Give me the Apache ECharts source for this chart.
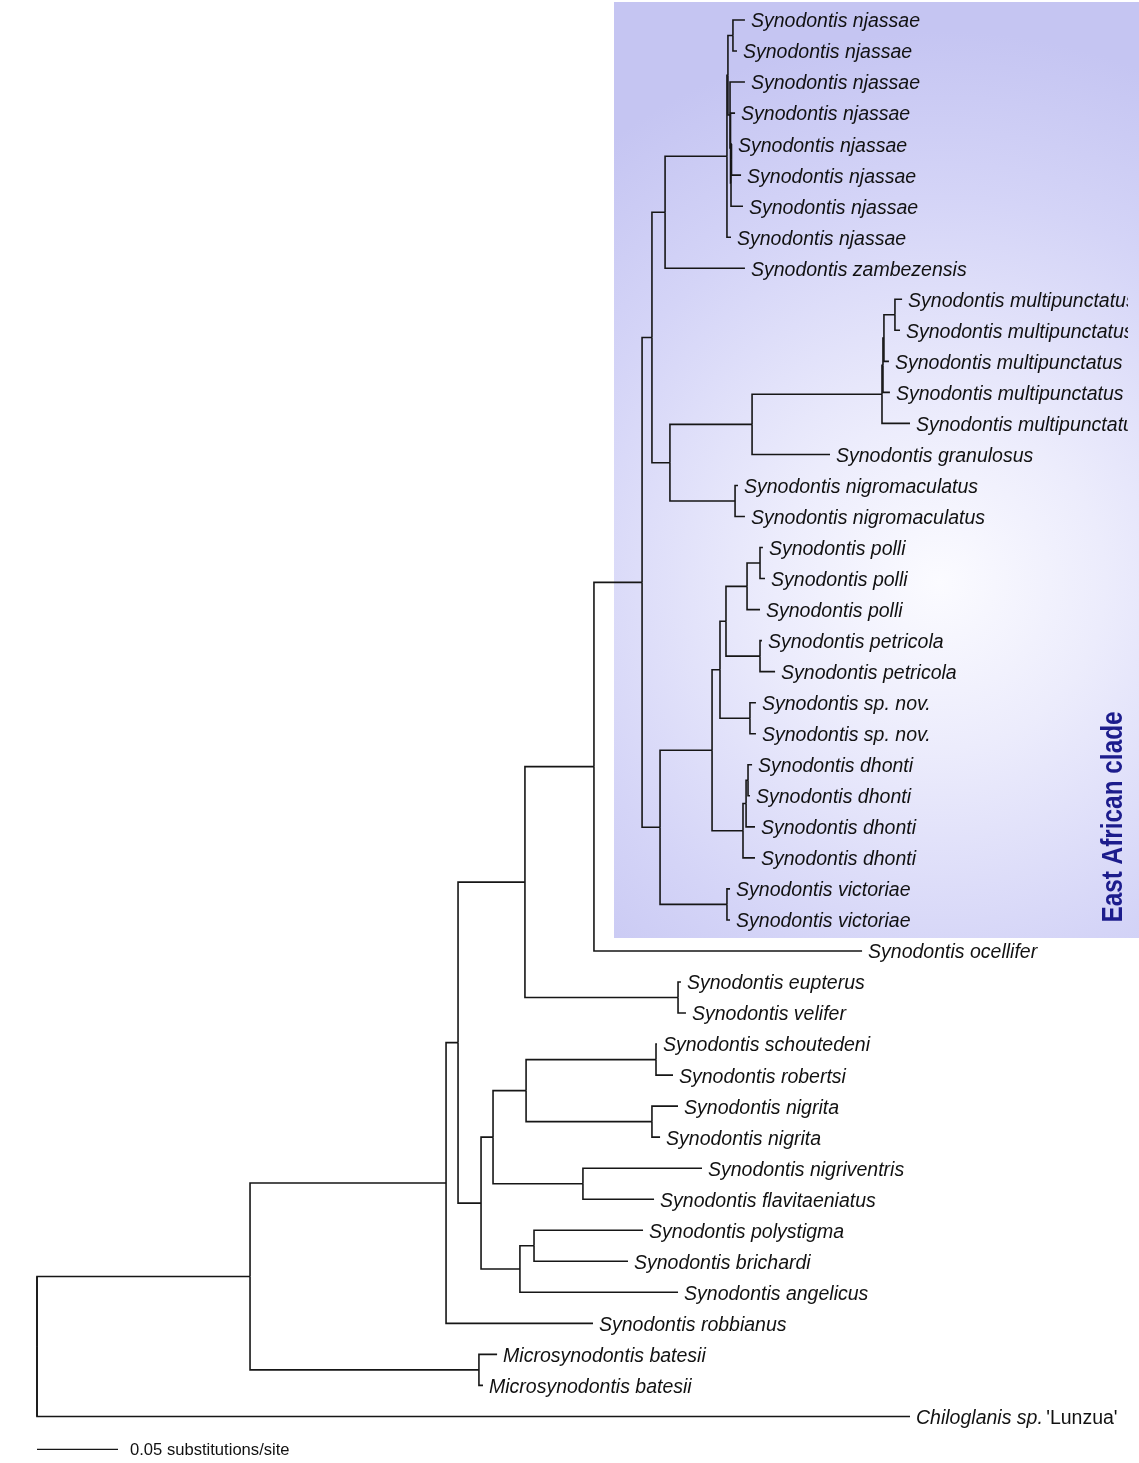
<!DOCTYPE html>
<html><head><meta charset="utf-8">
<script src="https://cdn.jsdelivr.net/npm/echarts@6/dist/echarts.min.js"></script>
<style>html,body{margin:0;padding:0;background:#fff}#chart{width:1139px;height:1463px}</style>
</head><body><div id="chart"></div>
<script>
// ---- Tree data (distances from root in substitutions/site) ----
const nodeIds = ['root','ig','micro','syn','a','b','k','l','m2','m','nj','nja','njs','njd','njg','njh','nji',
  'u','v','p','p2','q','r','nm','n','w','x','y','po','po2','pe','sn','dh','dh1','dh1a','vi','eu',
  'c','d','f','h','i','g','e','j'];
const nodeParents = [null,'root','ig','ig','syn','a','b','k','l','m2','m','nj','nja','nja','njd','njg','njh',
  'm2','u','v','p','p2','q','u','l','n','w','x','y','po','y','x','w','dh','dh1','n','b',
  'a','c','d','f','f','d','c','e'];
const nodeDepths = [0,0.1315,0.2728,0.2525,0.2599,0.3012,0.3438,0.3735,0.3796,0.3877,0.4259,0.4265,0.4296,0.4278,0.4281,0.4284,0.4287,
  0.3907,0.4414,0.5216,0.5222,0.5228,0.5296,0.4309,0.3846,0.4167,0.4216,0.4253,0.4383,0.4463,0.4463,0.4401,0.4358,0.4377,0.4389,0.4259,0.3957,
  0.2741,0.2815,0.3019,0.3821,0.3796,0.3370,0.2981,0.3068];

const leafNames = [
  'Synodontis njassae','Synodontis njassae','Synodontis njassae','Synodontis njassae',
  'Synodontis njassae','Synodontis njassae','Synodontis njassae','Synodontis njassae',
  'Synodontis zambezensis',
  'Synodontis multipunctatus','Synodontis multipunctatus','Synodontis multipunctatus',
  'Synodontis multipunctatus','Synodontis multipunctatus',
  'Synodontis granulosus','Synodontis nigromaculatus','Synodontis nigromaculatus',
  'Synodontis polli','Synodontis polli','Synodontis polli',
  'Synodontis petricola','Synodontis petricola',
  'Synodontis sp. nov.','Synodontis sp. nov.',
  'Synodontis dhonti','Synodontis dhonti','Synodontis dhonti','Synodontis dhonti',
  'Synodontis victoriae','Synodontis victoriae',
  'Synodontis ocellifer','Synodontis eupterus','Synodontis velifer',
  'Synodontis schoutedeni','Synodontis robertsi','Synodontis nigrita','Synodontis nigrita',
  'Synodontis nigriventris','Synodontis flavitaeniatus',
  'Synodontis polystigma','Synodontis brichardi','Synodontis angelicus',
  'Synodontis robbianus','Microsynodontis batesii','Microsynodontis batesii',
  "Chiloglanis sp. 'Lunzua'"
];
const leafParents = ['njs','njs','njd','njg','nji','nji','njh','nj','m',
  'r','r','q','p2','p','v','nm','nm','po2','po2','po','pe','pe','sn','sn',
  'dh1a','dh1a','dh1','dh','vi','vi','k','eu','eu','h','h','i','i','g','g',
  'j','j','e','syn','micro','micro','root'];
const leafDepths = [0.4370,0.4321,0.4370,0.4309,0.4290,0.4346,0.4358,0.4284,0.4370,
  0.5340,0.5327,0.5259,0.5265,0.5389,0.4895,0.4327,0.4370,0.4481,0.4494,0.4463,0.4475,0.4556,0.4438,0.4438,
  0.4414,0.4401,0.4432,0.4432,0.4278,0.4278,0.5093,0.3975,0.4006,0.3827,0.3926,0.3957,0.3846,0.4105,0.3809,
  0.3741,0.3648,0.3957,0.3432,0.2840,0.2753,0.5389];

const scaleBarLength = 0.05;
const scaleBarLabel = '0.05 substitutions/site';
const cladeLabel = 'East African clade';

// ---- layout computation (node y = midpoint of children's span) ----
const depthOf = {}; nodeIds.forEach((id, i) => depthOf[id] = nodeDepths[i]);
const kids = {}; nodeIds.forEach(id => kids[id] = []);
leafParents.forEach((p, i) => kids[p].push({ leaf: true, i }));
nodeParents.forEach((p, i) => { if (p) kids[p].push({ leaf: false, id: nodeIds[i] }); });
const yOfNode = {};
function nodeY(id) {
  if (yOfNode[id] !== undefined) return yOfNode[id];
  const ys = kids[id].map(c => c.leaf ? c.i : nodeY(c.id));
  yOfNode[id] = (Math.min(...ys) + Math.max(...ys)) / 2;
  return yOfNode[id];
}
nodeIds.forEach(nodeY);

const branchData = [], branchLabels = [];
nodeIds.forEach((id, i) => {
  const p = nodeParents[i]; if (!p) return;
  branchData.push([depthOf[p], yOfNode[p], nodeDepths[i], yOfNode[id]]);
  branchLabels.push(null);
});
leafNames.forEach((name, i) => {
  const p = leafParents[i];
  branchData.push([depthOf[p], yOfNode[p], leafDepths[i], i]);
  branchLabels.push(name);
});
const rootKids = kids['root'].map(c => c.leaf ? c.i : yOfNode[c.id]);

const FONT = '"Liberation Sans", Arial, Helvetica, sans-serif';
const FS = 19.5;
const LINE = '#161616';

const chart = echarts.init(document.getElementById('chart'), null, { renderer: 'canvas' });
chart.setOption({
  animation: false,
  backgroundColor: '#ffffff',
  grid: { left: 20.8, top: 1.36, width: 1106.2, height: 1463.4, containLabel: false },
  xAxis: { type: 'value', min: -0.01, max: 0.67284, show: false },
  yAxis: { type: 'value', min: -0.6, max: 46.5, inverse: true, show: false },
  graphic: [
    {
      type: 'rect', z: 0, silent: true,
      shape: { x: 614, y: 2, width: 525, height: 936 },
      style: {
        fill: new echarts.graphic.RadialGradient(0.62, 0.62, 1.05, [
          { offset: 0, color: '#fbfbff' },
          { offset: 0.3, color: '#ececfc' },
          { offset: 0.7, color: '#d4d4f7' },
          { offset: 1, color: '#c5c5f2' }
        ])
      }
    },
    {
      type: 'text', z: 5, silent: true,
      x: 1114, y: 817, rotation: Math.PI / 2, scaleX: 0.84,
      style: {
        text: cladeLabel, fill: '#1c1c8c', align: 'center', verticalAlign: 'middle',
        font: 'bold 29px "Liberation Sans", Arial, sans-serif'
      }
    }
  ],
  series: [
    {
      type: 'custom', z: 3, clip: true,
      data: branchData,
      renderItem: function (params, api) {
        const pd = api.value(0), py = api.value(1), d = api.value(2), y = api.value(3);
        const p0 = api.coord([pd, py]), p1 = api.coord([pd, y]), p2 = api.coord([d, y]);
        const els = [{
          type: 'polyline', shape: { points: [p0, p1, p2] },
          style: { stroke: LINE, lineWidth: 1.6, fill: null, lineJoin: 'miter' }
        }];
        const name = branchLabels[params.dataIndex];
        if (name) {
          const q = name.indexOf("'");
          let style;
          if (q > 0) {
            style = {
              text: '{i|' + name.slice(0, q).trim() + '} {n|' + name.slice(q) + '}',
              rich: {
                i: { fontStyle: 'italic', fontSize: FS, fontFamily: FONT, fill: '#111' },
                n: { fontSize: FS, fontFamily: FONT, fill: '#111' }
              },
              align: 'left', verticalAlign: 'middle'
            };
          } else {
            style = { text: name, font: 'italic ' + FS + 'px ' + FONT, fill: '#111', align: 'left', verticalAlign: 'middle' };
          }
          els.push({ type: 'text', x: p2[0] + 6, y: p2[1] + 2, style: style });
        }
        return { type: 'group', children: els };
      }
    },
    {
      type: 'custom', z: 3, clip: false,
      data: [[0, Math.min(...rootKids), Math.max(...rootKids)]],
      renderItem: function (params, api) {
        const a = api.coord([api.value(0), api.value(1)]), b = api.coord([api.value(0), api.value(2)]);
        return { type: 'line', shape: { x1: a[0], y1: a[1], x2: b[0], y2: b[1] }, style: { stroke: LINE, lineWidth: 1.6 } };
      }
    },
    {
      type: 'custom', z: 3, clip: false,
      data: [[0, scaleBarLength, 46.06]],
      renderItem: function (params, api) {
        const a = api.coord([api.value(0), api.value(2)]), b = api.coord([api.value(1), api.value(2)]);
        return { type: 'group', children: [
          { type: 'line', shape: { x1: a[0], y1: a[1], x2: b[0], y2: b[1] }, style: { stroke: LINE, lineWidth: 1.3 } },
          { type: 'text', x: b[0] + 12, y: b[1] + 1.5, style: { text: scaleBarLabel, font: '16.6px ' + FONT, fill: '#111', align: 'left', verticalAlign: 'middle' } }
        ] };
      }
    }
  ]
});
</script>
</body></html>
